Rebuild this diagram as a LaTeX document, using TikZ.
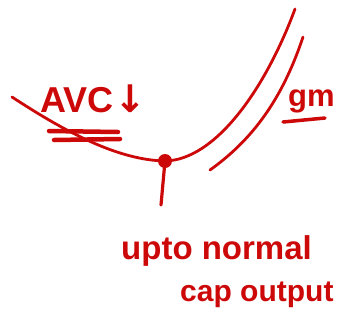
\documentclass[tikz,border=0pt]{standalone}
\usepackage{fontspec}
\setmainfont{Liberation Sans}
\newfontfamily\symfont{DejaVu Sans}
\definecolor{ink}{RGB}{204,8,8}
\begin{document}
\begin{tikzpicture}[x=1pt,y=-1pt,
  curve/.style={draw=ink,line width=2.8pt,line cap=round},
  lbl/.style={text=ink,inner sep=0pt,font=\bfseries},
  uline/.style={draw=ink,line width=4.5pt,line cap=round}]
\useasboundingbox (0,0) rectangle (338,333);
% AVC curve
\coordinate (avcstart) at (12,97);
\node[circle,fill=ink,minimum size=14pt,inner sep=0pt] (dot) at (165,161) {};
\coordinate (avcend) at (295,9);
\draw[curve] (avcstart) .. controls (70,135) and (120,160) .. (dot.center)
  .. controls (215,160) and (265,90) .. (avcend);
% second curve
\coordinate (mcs) at (303,37);
\coordinate (mce) at (210,170);
\draw[curve] (mcs) .. controls (282,100) and (252,140) .. (mce);
% stem
\coordinate (stemend) at (161,205);
\draw[curve,line width=3.2pt] (dot.center) -- (stemend);
% labels
\node[lbl,font=\bfseries\fontsize{36}{36}\selectfont,anchor=base west] (avc) at (40,112) {AVC\kern1pt{\symfont\bfseries\fontsize{38}{38}\selectfont ↓}};
\coordinate (u1a) at (49,131); \coordinate (u1b) at (118,132);
\coordinate (u2a) at (54,140); \coordinate (u2b) at (120,139);
\draw[uline] (u1a) -- (u1b);
\draw[uline] (u2a) -- (u2b);
\node[lbl,font=\bfseries\fontsize{31}{31}\selectfont,anchor=base west] (gm) at (288,106) {gm};
\coordinate (g1) at (283,122); \coordinate (g2) at (325,118);
\draw[uline,line width=3.5pt] (g1) -- (g2);
\node[lbl,font=\bfseries\fontsize{33}{33}\selectfont,anchor=base west] (t1) at (121,259) {upto normal};
\node[lbl,font=\bfseries\fontsize{30}{30}\selectfont,anchor=base west] (t2) at (180,301) {cap output};
\end{tikzpicture}
\end{document}
